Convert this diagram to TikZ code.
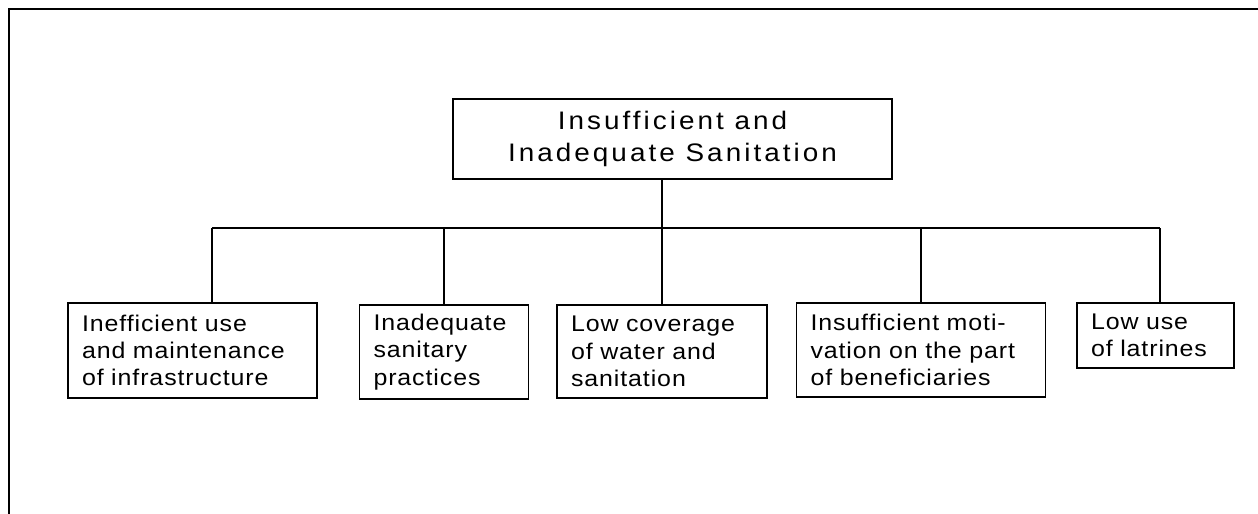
\documentclass[tikz,border=0pt]{standalone}
\usepackage{fontspec}
\setmainfont{Liberation Sans}[FakeStretch=1.1,LetterSpace=4]
\usepackage{tikz}

\begin{document}
\begin{tikzpicture}[x=0.75pt,y=-0.75pt,
  problem/.style={draw,line width=1.2pt,minimum width=329.25pt,minimum height=60pt,
    align=center,font=\fontsize{19}{24}\selectfont\addfontfeature{LetterSpace=12}},
  cause/.style={draw,line width=1.2pt,inner xsep=10.5pt,inner ysep=0pt,text width=#1,
    align=left,font=\fontsize{17}{20.4}\selectfont},
  link/.style={line width=1.3pt}]
\useasboundingbox (0,0) rectangle (1258,514);
% frame
\draw[line width=1.6pt] (9,514) -- (9,9) -- (1258,9);
% top box
\node[problem] (top) at (672.5,139) {Insufficient and\\Inadequate Sanitation};
% causes
\node[cause=165.75pt,minimum height=71.25pt] (c1) at (192.5,350.5)
  {Inefficient use\\and maintenance\\of infrastructure};
\node[cause=105.75pt,minimum height=70.5pt] (c2) at (444,352)
  {Inadequate\\sanitary\\practices};
\node[cause=136.5pt,minimum height=69.75pt] (c3) at (662,351.5)
  {Low coverage\\of water and\\sanitation};
\node[cause=165.75pt,minimum height=70.5pt] (c4) at (921,350)
  {Insufficient moti-\\vation on the part\\of beneficiaries};
\node[cause=96.75pt,minimum height=48.75pt] (c5) at (1155.5,335.5)
  {Low use\\of latrines};
% connectors
\coordinate (d1) at (212,228);
\coordinate (d5) at (1160,228);
\draw[link] (c3.north |- top.south) -- (c3.north);
\draw[link] (d1) -- (d5);
\draw[link] (d1) -- (d1 |- c1.north);
\draw[link] (c2.north |- d1) -- (c2.north);
\draw[link] (c4.north |- d1) -- (c4.north);
\draw[link] (d5) -- (d5 |- c5.north);
\end{tikzpicture}
\end{document}
